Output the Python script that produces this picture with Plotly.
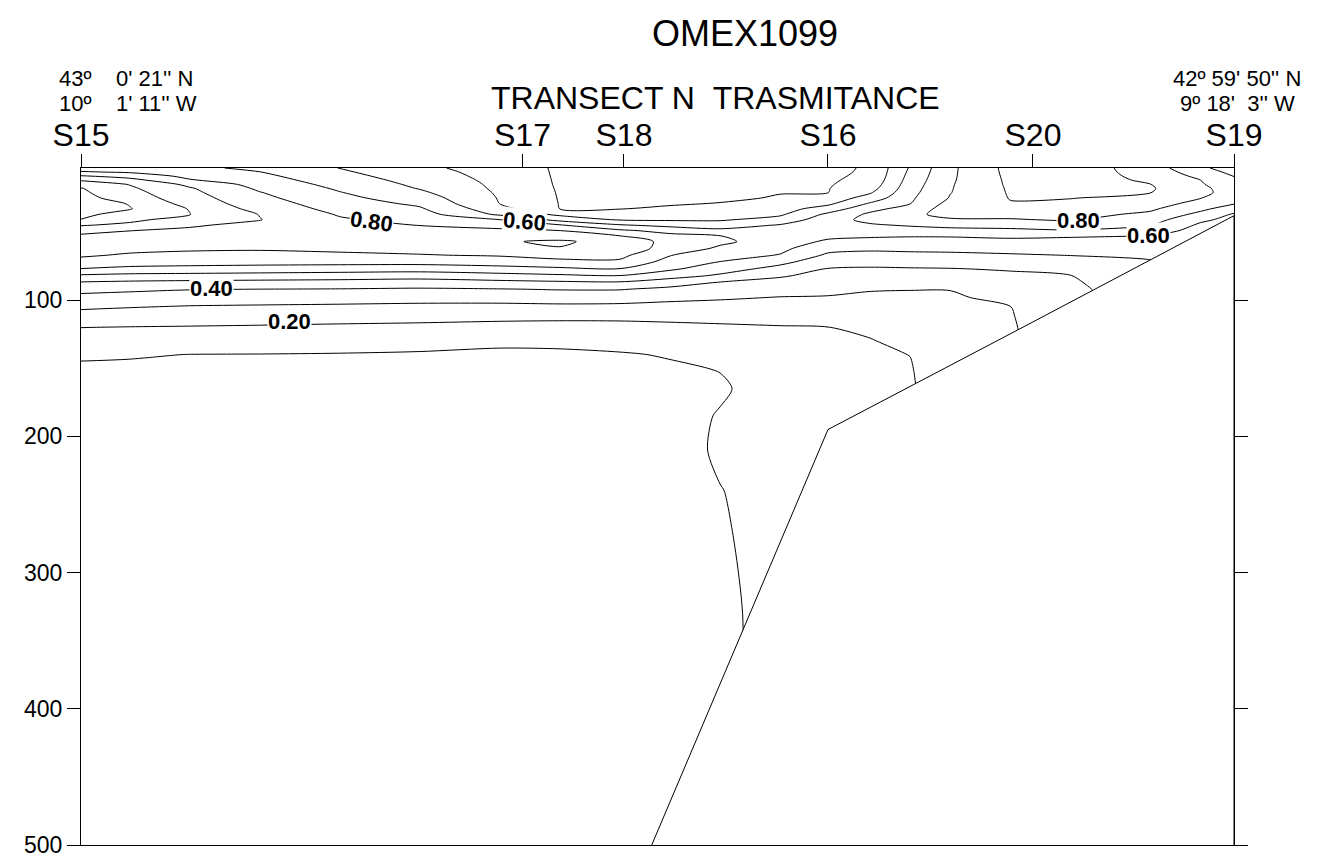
import numpy as np
import plotly.graph_objects as go

# ---------------- data ----------------
stations = ["S15", "S17", "S18", "S16", "S20", "S19"]
station_km = [0.0, 22.4, 27.55, 37.9, 48.3, 58.5]
bottom_depth = [1100, 900, 548, 195, 116, 38]

grid_km = [0.0, 2.463, 5.510, 9.064, 13.127, 17.189, 21.252, 24.299, 27.346, 29.885,
           32.424, 35.471, 37.909, 40.041, 42.073, 44.104, 47.150, 50.197, 54.260,
           56.799, 58.5]
depth_m = [3, 6, 9, 12, 15, 18, 21, 25, 29, 33, 37, 41, 45, 49, 53, 57, 62, 67, 72, 77,
           82, 87, 92, 98, 105, 112, 120, 130, 140, 150, 165, 185, 210, 240, 280, 330,
           400, 500]

# transmittance profiles, one per grid column (top to bottom)
tr_a = [0.75, 0.81, 0.911, 0.992, 1.061, 1.105, 1.116, 1.131, 1.146, 1.136, 1.118, 1.098, 1.007, 0.927, 0.886, 0.865, 0.839, 0.813, 0.766, 0.698, 0.586, 0.493, 0.431, 0.372, 0.315, 0.261, 0.201, 0.155, 0.110, 0.089, 0.067, 0.055, 0.05, 0.05, 0.05, 0.05, 0.05, 0.05]
tr_b = [0.76, 0.789, 0.863, 0.937, 0.996, 1.016, 1.033, 1.055, 1.095, 1.105, 1.07, 1.023, 0.977, 0.901, 0.88, 0.86, 0.826, 0.789, 0.740, 0.680, 0.571, 0.483, 0.418, 0.362, 0.304, 0.253, 0.197, 0.152, 0.106, 0.088, 0.067, 0.055, 0.05, 0.05, 0.05, 0.05, 0.05, 0.05]
tr_c = [0.72, 0.748, 0.776, 0.809, 0.877, 0.910, 0.924, 0.943, 0.962, 0.995, 1.003, 0.955, 0.909, 0.887, 0.869, 0.847, 0.815, 0.777, 0.733, 0.673, 0.565, 0.476, 0.404, 0.351, 0.293, 0.246, 0.194, 0.147, 0.099, 0.087, 0.067, 0.055, 0.05, 0.05, 0.05, 0.05, 0.05, 0.05]
tr_d = [0.68, 0.702, 0.723, 0.743, 0.764, 0.784, 0.804, 0.824, 0.845, 0.865, 0.897, 0.903, 0.878, 0.864, 0.848, 0.831, 0.810, 0.776, 0.731, 0.664, 0.558, 0.471, 0.399, 0.346, 0.288, 0.240, 0.190, 0.142, 0.098, 0.085, 0.066, 0.055, 0.05, 0.05, 0.05, 0.05, 0.05, 0.05]
tr_e = [0.598, 0.615, 0.633, 0.651, 0.669, 0.687, 0.704, 0.725, 0.747, 0.769, 0.791, 0.812, 0.833, 0.855, 0.849, 0.834, 0.815, 0.788, 0.732, 0.653, 0.551, 0.466, 0.396, 0.342, 0.283, 0.234, 0.184, 0.134, 0.096, 0.084, 0.066, 0.055, 0.05, 0.05, 0.05, 0.05, 0.05, 0.05]
tr_f = [0.52, 0.535, 0.549, 0.565, 0.580, 0.595, 0.617, 0.649, 0.681, 0.712, 0.741, 0.769, 0.798, 0.824, 0.851, 0.863, 0.830, 0.795, 0.733, 0.647, 0.542, 0.458, 0.389, 0.335, 0.278, 0.229, 0.179, 0.124, 0.093, 0.080, 0.060, 0.055, 0.05, 0.05, 0.05, 0.05, 0.05, 0.05]
tr_g = [0.46, 0.464, 0.468, 0.473, 0.478, 0.482, 0.487, 0.493, 0.498, 0.535, 0.581, 0.702, 0.769, 0.818, 0.851, 0.89, 0.854, 0.809, 0.746, 0.667, 0.565, 0.473, 0.396, 0.337, 0.276, 0.223, 0.171, 0.112, 0.089, 0.074, 0.058, 0.053, 0.05, 0.05, 0.05, 0.05, 0.05, 0.05]
tr_h = [0.385, 0.386, 0.387, 0.388, 0.389, 0.391, 0.393, 0.395, 0.397, 0.399, 0.477, 0.568, 0.709, 0.801, 0.851, 0.915, 0.895, 0.838, 0.771, 0.683, 0.585, 0.484, 0.405, 0.345, 0.279, 0.220, 0.169, 0.115, 0.089, 0.075, 0.058, 0.053, 0.05, 0.05, 0.05, 0.05, 0.05, 0.05]
tr_i = [0.35, 0.355, 0.360, 0.364, 0.369, 0.374, 0.379, 0.385, 0.392, 0.398, 0.437, 0.492, 0.611, 0.718, 0.804, 0.86, 0.857, 0.825, 0.783, 0.698, 0.599, 0.490, 0.405, 0.342, 0.277, 0.219, 0.173, 0.126, 0.094, 0.080, 0.060, 0.055, 0.05, 0.05, 0.05, 0.05, 0.05, 0.05]
tr_j = [0.35, 0.354, 0.358, 0.362, 0.366, 0.371, 0.375, 0.381, 0.387, 0.420, 0.454, 0.488, 0.572, 0.668, 0.728, 0.770, 0.763, 0.704, 0.660, 0.617, 0.542, 0.446, 0.377, 0.324, 0.270, 0.221, 0.181, 0.143, 0.105, 0.091, 0.075, 0.07, 0.07, 0.07, 0.07, 0.07, 0.07, 0.07]
tr_k = [0.35, 0.354, 0.358, 0.362, 0.366, 0.370, 0.374, 0.380, 0.404, 0.433, 0.461, 0.490, 0.549, 0.627, 0.702, 0.72, 0.684, 0.641, 0.597, 0.545, 0.486, 0.395, 0.358, 0.312, 0.266, 0.222, 0.189, 0.160, 0.12, 0.103, 0.09, 0.105, 0.11, 0.098, 0.092, 0.085, 0.085, 0.085]
tr_l = [0.37, 0.374, 0.379, 0.383, 0.387, 0.392, 0.396, 0.409, 0.434, 0.459, 0.485, 0.536, 0.609, 0.640, 0.67, 0.649, 0.624, 0.595, 0.527, 0.466, 0.410, 0.372, 0.337, 0.297, 0.262, 0.227, 0.195, 0.178, 0.16, 0.152, 0.14, 0.134, 0.13, 0.127, 0.125, 0.125, 0.125, 0.125]
tr_m = [0.38, 0.383, 0.387, 0.39, 0.393, 0.397, 0.399, 0.439, 0.478, 0.546, 0.620, 0.660, 0.682, 0.651, 0.620, 0.585, 0.533, 0.483, 0.437, 0.396, 0.371, 0.347, 0.323, 0.294, 0.262, 0.230, 0.199, 0.189, 0.18, 0.174, 0.165, 0.162, 0.16, 0.16, 0.16, 0.16, 0.16, 0.16]
tr_n = [0.41, 0.412, 0.416, 0.425, 0.44, 0.46, 0.49, 0.542, 0.609, 0.670, 0.718, 0.726, 0.688, 0.650, 0.611, 0.570, 0.518, 0.472, 0.429, 0.391, 0.362, 0.334, 0.306, 0.284, 0.262, 0.240, 0.215, 0.196, 0.188, 0.18, 0.175, 0.17, 0.17, 0.17, 0.17, 0.17, 0.17, 0.17]
tr_o = [0.61, 0.620, 0.630, 0.640, 0.650, 0.660, 0.670, 0.684, 0.697, 0.742, 0.785, 0.747, 0.709, 0.659, 0.605, 0.567, 0.522, 0.478, 0.435, 0.394, 0.364, 0.333, 0.302, 0.288, 0.273, 0.259, 0.242, 0.221, 0.201, 0.195, 0.19, 0.19, 0.19, 0.19, 0.19, 0.19, 0.19, 0.19]
tr_p = [0.78, 0.782, 0.784, 0.787, 0.791, 0.794, 0.797, 0.806, 0.831, 0.844, 0.821, 0.792, 0.729, 0.667, 0.606, 0.568, 0.525, 0.481, 0.438, 0.397, 0.365, 0.334, 0.302, 0.29, 0.28, 0.27, 0.265, 0.26, 0.26, 0.26, 0.26, 0.26, 0.26, 0.26, 0.26, 0.26, 0.26, 0.26]
tr_q = [0.93, 0.927, 0.923, 0.919, 0.916, 0.912, 0.909, 0.904, 0.895, 0.862, 0.829, 0.793, 0.736, 0.677, 0.617, 0.575, 0.533, 0.491, 0.450, 0.408, 0.384, 0.364, 0.345, 0.321, 0.299, 0.296, 0.293, 0.29, 0.29, 0.29, 0.29, 0.29, 0.29, 0.29, 0.29, 0.29, 0.29, 0.29]
tr_r = [0.96, 0.952, 0.945, 0.937, 0.929, 0.921, 0.913, 0.903, 0.883, 0.858, 0.833, 0.809, 0.757, 0.690, 0.608, 0.574, 0.538, 0.502, 0.466, 0.431, 0.398, 0.385, 0.371, 0.357, 0.35, 0.35, 0.35, 0.35, 0.35, 0.35, 0.35, 0.35, 0.35, 0.35, 0.35, 0.35, 0.35, 0.35]
tr_s = [0.85, 0.863, 0.876, 0.889, 0.901, 0.91, 0.902, 0.876, 0.845, 0.815, 0.781, 0.742, 0.703, 0.649, 0.598, 0.573, 0.542, 0.511, 0.495, 0.48, 0.48, 0.48, 0.48, 0.48, 0.48, 0.48, 0.48, 0.48, 0.48, 0.48, 0.48, 0.48, 0.48, 0.48, 0.48, 0.48, 0.48, 0.48]
tr_t = [0.72, 0.748, 0.776, 0.801, 0.809, 0.817, 0.817, 0.803, 0.768, 0.723, 0.673, 0.619, 0.583, 0.563, 0.55, 0.55, 0.55, 0.55, 0.55, 0.55, 0.55, 0.55, 0.55, 0.55, 0.55, 0.55, 0.55, 0.55, 0.55, 0.55, 0.55, 0.55, 0.55, 0.55, 0.55, 0.55, 0.55, 0.55]
tr_u = [0.65, 0.674, 0.698, 0.720, 0.742, 0.765, 0.772, 0.74, 0.708, 0.648, 0.59, 0.57, 0.55, 0.55, 0.55, 0.55, 0.55, 0.55, 0.55, 0.55, 0.55, 0.55, 0.55, 0.55, 0.55, 0.55, 0.55, 0.55, 0.55, 0.55, 0.55, 0.55, 0.55, 0.55, 0.55, 0.55, 0.55, 0.55]

profiles = [tr_a, tr_b, tr_c, tr_d, tr_e, tr_f, tr_g, tr_h, tr_i, tr_j, tr_k,
            tr_l, tr_m, tr_n, tr_o, tr_p, tr_q, tr_r, tr_s, tr_t, tr_u]
z = np.array(profiles).T  # rows = depth, columns = distance

# contour labels (distance km, depth m, text angle)
label_text = ["0.80", "0.60", "0.40", "0.20", "0.80", "0.60"]
label_km = [14.75, 22.52, 6.63, 10.59, 50.6, 54.16]
label_depth = [42.4, 42.4, 91.6, 115.8, 41.6, 52.6]
label_angle = [8, 5, 0, 0, 0, 0]

FONT = "Arial, Liberation Sans, sans-serif"

fig = go.Figure()
fig.add_trace(go.Contour(
    x=grid_km, y=depth_m, z=z,
    contours=dict(start=0.1, end=1.1, size=0.1, coloring="none", showlabels=False),
    line=dict(color="black", width=1, smoothing=0.8),
    showscale=False, hoverinfo="skip",
))

# sea bottom (white mask + outline)
bx = station_km + [station_km[-1], station_km[0]]
by = bottom_depth + [2000, 2000]
fig.add_trace(go.Scatter(
    x=bx, y=by, mode="lines", fill="toself", fillcolor="white",
    line=dict(color="black", width=1), hoverinfo="skip", showlegend=False,
))

for t, xk, yd, ang in zip(label_text, label_km, label_depth, label_angle):
    fig.add_annotation(x=xk, y=yd, xref="x", yref="y", text="<b>%s</b>" % t,
                       showarrow=False, textangle=ang, bgcolor="white", borderpad=0,
                       font=dict(family=FONT, size=22, color="black"))

# page is shown with an 8 px body margin; positions below are screen pixels
def paper_x(px):
    return (px - 81) / 1153.0

def paper_y(py):
    return (845 - py) / 677.0

def add_text(px, py, text, size, anchor="center"):
    fig.add_annotation(x=paper_x(px), y=paper_y(py), xref="paper", yref="paper",
                       text=text, showarrow=False, xanchor=anchor, yanchor="middle",
                       font=dict(family=FONT, size=size, color="black"))

NB = "\u00a0"
add_text(745, 34, "OMEX1099", 36)
add_text(715, 98, "TRANSECT N" + NB * 2 + "TRASMITANCE", 32)
add_text(57, 78.5, "43º" + NB * 4 + "0' 21'' N", 22, "left")
add_text(57, 103.5, "10º" + NB * 4 + "1' 11'' W", 22, "left")
add_text(1303, 78.5, "42º 59' 50'' N", 22, "right")
add_text(1297, 103.5, "9º 18'" + NB * 2 + "3'' W", 22, "right")

fig.update_layout(
    width=1305, height=853,
    margin=dict(l=73, r=79, t=160, b=16, autoexpand=False),
    paper_bgcolor="white", plot_bgcolor="white",
    showlegend=False,
    font=dict(family=FONT, color="black"),
    xaxis=dict(range=[0, 58.5], side="top", tickmode="array",
               tickvals=station_km, ticktext=stations,
               ticks="outside", ticklen=13, tickcolor="black", tickwidth=1,
               ticklabelstandoff=-5,
               showline=True, linecolor="black", linewidth=1, mirror=True,
               showgrid=False, zeroline=False,
               tickfont=dict(family=FONT, size=32, color="black")),
    yaxis=dict(range=[500, 3], tickmode="array", tickvals=[100, 200, 300, 400, 500],
               ticks="outside", ticklen=13, tickcolor="black", tickwidth=1,
               showline=True, linecolor="black", linewidth=1, mirror="ticks",
               showgrid=False, zeroline=False,
               tickfont=dict(family=FONT, size=23, color="black")),
)

fig.write_html("out.html")
